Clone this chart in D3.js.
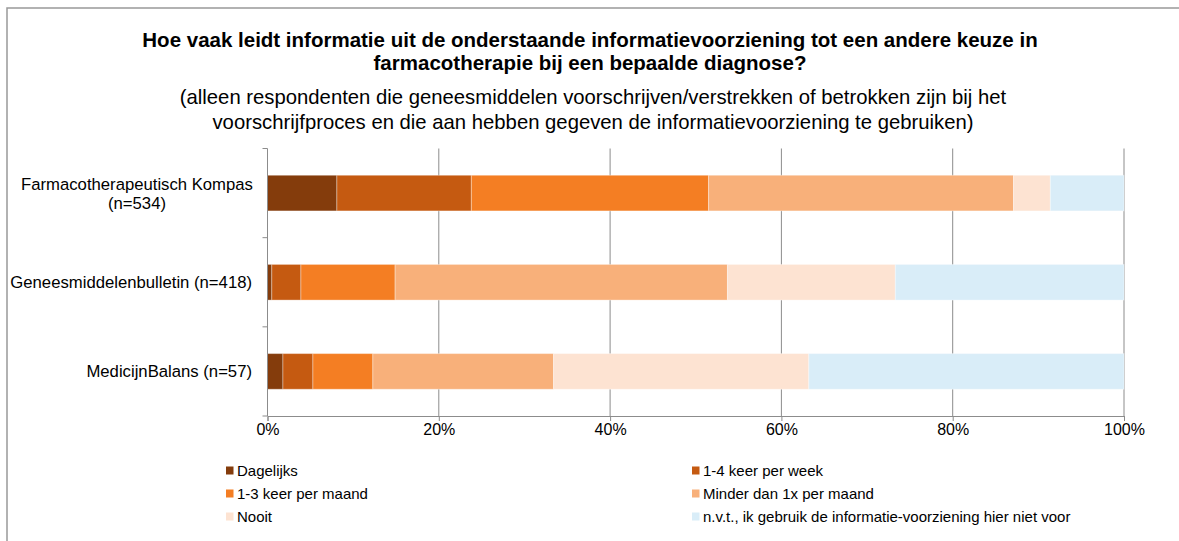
<!DOCTYPE html>
<html>
<head>
<meta charset="utf-8">
<script src="https://cdn.jsdelivr.net/npm/d3@7"></script>
<style>
  body { margin: 0; background: #fff; }
  text { font-family: "Liberation Sans", Arial, sans-serif; fill: #000; }
</style>
</head>
<body>
<div id="chart"></div>
<script>
// categories (top to bottom)
var categories = ["Farmacotherapeutisch Kompas (n=534)", "Geneesmiddelenbulletin (n=418)", "MedicijnBalans (n=57)"];
var categoryLines = [["Farmacotherapeutisch Kompas", "(n=534)"], ["Geneesmiddelenbulletin (n=418)"], ["MedicijnBalans (n=57)"]];

// answer options
var series = ["Dagelijks", "1-4 keer per week", "1-3 keer per maand", "Minder dan 1x per maand", "Nooit", "n.v.t., ik gebruik de informatie-voorziening hier niet voor"];
var colors = ["#843c0c", "#c55a11", "#f47e23", "#f8b07a", "#fde3d2", "#d9edf8"];

// percentages per category, one value per answer option
var kompas = [8.1, 15.7, 27.7, 35.6, 4.3, 8.6];
var bulletin = [0.5, 3.4, 11.0, 38.8, 19.6, 26.7];
var balans = [1.8, 3.5, 7.0, 21.1, 29.8, 36.8];

var ticks = [0, 20, 40, 60, 80, 100];

var W = 1179, H = 541;
var margin = {left: 267.5, right: 55, top: 148.5, bottom: 125};
var axisY = 416;

var svg = d3.select("#chart").append("svg")
  .attr("width", W)
  .attr("height", H);

// outer frame
svg.append("rect")
  .attr("x", 7).attr("y", 8)
  .attr("width", W + 20).attr("height", H + 20)
  .attr("fill", "none")
  .attr("stroke", "#999")
  .attr("stroke-width", 1.5);

// titles
var title = svg.append("text")
  .attr("text-anchor", "middle")
  .style("font-weight", "bold")
  .style("font-size", "20.5px");
title.append("tspan").attr("x", 590).attr("y", 47).text("Hoe vaak leidt informatie uit de onderstaande informatievoorziening tot een andere keuze in");
title.append("tspan").attr("x", 590).attr("y", 70).text("farmacotherapie bij een bepaalde diagnose?");

var sub = svg.append("text")
  .attr("text-anchor", "middle")
  .style("font-size", "20.3px");
sub.append("tspan").attr("x", 593).attr("y", 104).text("(alleen respondenten die geneesmiddelen voorschrijven/verstrekken of betrokken zijn bij het");
sub.append("tspan").attr("x", 593).attr("y", 129).text("voorschrijfproces en die aan hebben gegeven de informatievoorziening te gebruiken)");

var g = svg.append("g");

var x = d3.scaleLinear()
  .domain([0, 100])
  .range([margin.left, W - margin.right]);

var y = d3.scaleBand()
  .domain(categories)
  .range([margin.top, axisY])
  .paddingInner(0.6)
  .paddingOuter(0.3);

// gridlines
g.selectAll(".grid")
  .data(ticks.slice(1))
  .enter().append("line")
    .attr("x1", function(d) { return x(d); })
    .attr("x2", function(d) { return x(d); })
    .attr("y1", margin.top)
    .attr("y2", axisY)
    .attr("stroke", "#8c8c8c")
    .attr("stroke-width", 1);

// stacked data
var rows = [kompas, bulletin, balans].map(function(vals, i) {
  var o = {cat: categories[i]};
  series.forEach(function(s, j) { o[s] = vals[j]; });
  return o;
});
var stacked = d3.stack().keys(series)(rows);

g.selectAll(".layer")
  .data(stacked)
  .enter().append("g")
    .attr("fill", function(d, i) { return colors[i]; })
  .selectAll("rect")
  .data(function(d) { return d; })
  .enter().append("rect")
    .attr("x", function(d) { return x(d[0]); })
    .attr("y", function(d) { return y(d.data.cat); })
    .attr("width", function(d) { return x(d[1]) - x(d[0]); })
    .attr("height", y.bandwidth())
    .attr("stroke", "rgba(255,255,255,0.35)")
    .attr("stroke-width", 1);

// x axis
var xAxis = g.append("g")
  .attr("transform", "translate(0," + axisY + ")")
  .call(d3.axisBottom(x).tickValues(ticks).tickSize(5).tickFormat(function(d) { return d + "%"; }));
xAxis.select(".domain").attr("stroke", "#8c8c8c");
xAxis.selectAll(".tick line").attr("stroke", "#8c8c8c");
xAxis.selectAll(".tick text")
  .style("font-size", "16px")
  .style("font-family", "'Liberation Sans', Arial, sans-serif")
  .attr("fill", "#000");

// y axis: line with ticks between categories
var step = y.step();
var yBounds = [margin.top, margin.top + step, margin.top + 2 * step, axisY];
g.append("line")
  .attr("x1", x(0)).attr("x2", x(0))
  .attr("y1", margin.top).attr("y2", axisY)
  .attr("stroke", "#8c8c8c");
g.selectAll(".ytick")
  .data(yBounds)
  .enter().append("line")
    .attr("x1", x(0) - 5).attr("x2", x(0))
    .attr("y1", function(d) { return d; })
    .attr("y2", function(d) { return d; })
    .attr("stroke", "#8c8c8c");

// category labels
categories.forEach(function(c, i) {
  var lines = categoryLines[i];
  var cy = y(c) + y.bandwidth() / 2;
  var t = g.append("text")
    .attr("text-anchor", lines.length > 1 ? "middle" : "end")
    .style("font-size", "16.7px");
  lines.forEach(function(l, k) {
    t.append("tspan")
      .attr("x", lines.length > 1 ? 137 : 252)
      .attr("y", cy + 6 + (k - (lines.length - 1) / 2) * 19)
      .text(l);
  });
});

// legend
var legend = svg.selectAll(".legend")
  .data(series)
  .enter().append("g")
    .attr("transform", function(d, i) {
      var col = i % 2, row = Math.floor(i / 2);
      return "translate(" + (col ? 692 : 226) + "," + (470.5 + row * 23) + ")";
    });
legend.append("rect")
  .attr("x", 0).attr("y", -4)
  .attr("width", 7.5).attr("height", 8)
  .attr("fill", function(d, i) { return colors[i]; });
legend.append("text")
  .attr("x", 11).attr("y", 0)
  .attr("dy", "0.35em")
  .style("font-size", "15px")
  .text(function(d) { return d; });
</script>
</body>
</html>
